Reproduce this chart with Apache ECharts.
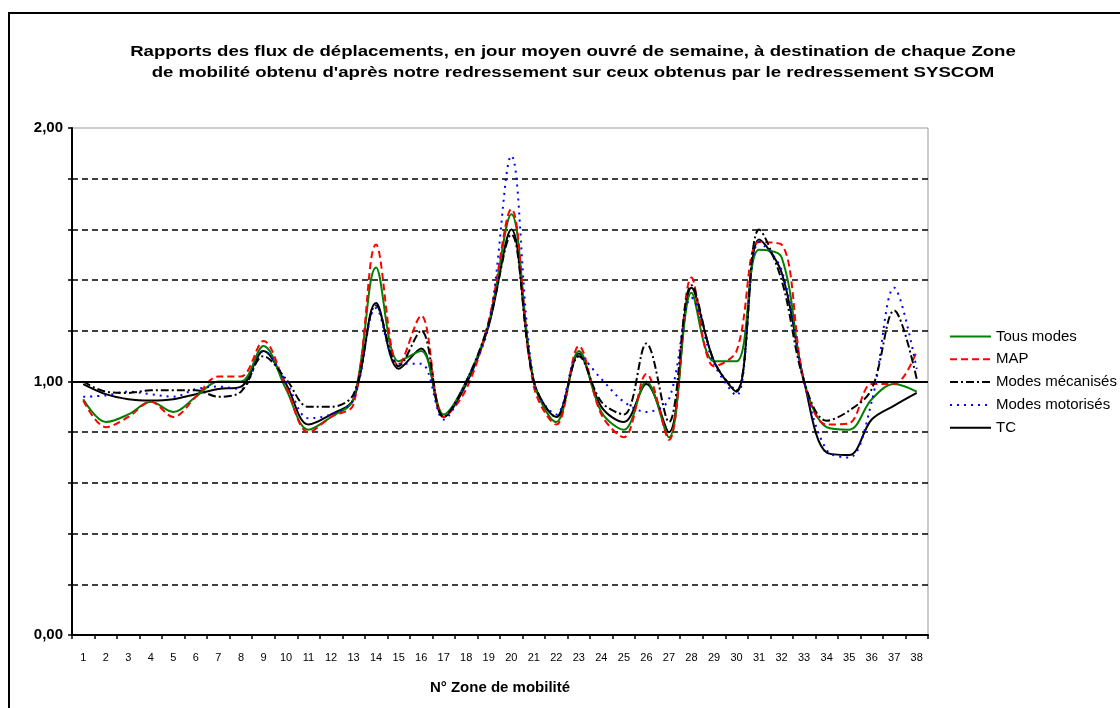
<!DOCTYPE html>
<html>
<head>
<meta charset="utf-8">
<title>Rapports des flux de déplacements</title>
<script src="https://cdn.jsdelivr.net/npm/echarts@6/dist/echarts.min.js"></script>
<style>
  html, body { margin: 0; padding: 0; background: #fff; }
  #chart { width: 1120px; height: 708px; }
</style>
</head>
<body>
<div id="chart"></div>
<script>
// Zones de mobilité 1 à 38
const zones = ['1','2','3','4','5','6','7','8','9','10','11','12','13','14','15','16','17','18','19','20',
  '21','22','23','24','25','26','27','28','29','30','31','32','33','34','35','36','37','38'];

// Rapports (notre redressement / redressement SYSCOM) par zone de destination
const tousModes = [0.93,0.84,0.87,0.92,0.88,0.94,1.00,1.00,1.14,0.97,0.81,0.86,0.93,1.45,1.08,1.12,0.87,1.00,1.23,1.66,
  1.00,0.84,1.12,0.88,0.81,1.00,0.78,1.35,1.08,1.08,1.52,1.49,1.00,0.82,0.81,0.93,0.99,0.96];
const map = [0.925,0.82,0.86,0.92,0.86,0.94,1.02,1.02,1.16,0.98,0.80,0.86,0.91,1.54,1.06,1.26,0.86,0.97,1.24,1.68,
  0.98,0.83,1.14,0.87,0.78,1.03,0.77,1.41,1.06,1.12,1.55,1.54,1.00,0.83,0.835,0.99,0.99,1.12];
const modesMecanises = [1.00,0.96,0.955,0.965,0.965,0.965,0.94,0.96,1.10,1.01,0.90,0.90,0.95,1.30,1.06,1.20,0.86,1.00,1.23,1.58,
  1.00,0.86,1.10,0.92,0.87,1.15,0.84,1.38,1.08,0.965,1.60,1.40,1.00,0.845,0.885,0.97,1.28,1.01];
const modesMotorises = [0.94,0.945,0.96,0.95,0.94,0.97,0.98,0.97,1.12,1.00,0.855,0.87,0.93,1.29,1.07,1.07,0.85,1.00,1.22,1.89,
  1.00,0.87,1.10,1.01,0.92,0.88,0.93,1.33,1.07,0.945,1.55,1.44,1.00,0.73,0.70,0.92,1.37,1.05];
const tc = [0.99,0.95,0.93,0.925,0.93,0.95,0.97,0.98,1.12,0.99,0.83,0.87,0.93,1.31,1.05,1.13,0.86,0.99,1.22,1.60,
  1.00,0.86,1.11,0.90,0.84,0.99,0.80,1.37,1.08,0.96,1.56,1.43,1.00,0.72,0.71,0.85,0.905,0.955];

const yTickLabels = { 0: '0,00', 1: '1,00', 2: '2,00' };

const titleLines = 'Rapports des flux de déplacements, en jour moyen ouvré de semaine, à destination de chaque Zone\n' +
  'de mobilité obtenu d\'après notre redressement sur ceux obtenus par le redressement SYSCOM';

const FONT = '"Liberation Sans", Arial, sans-serif';

const chart = echarts.init(document.getElementById('chart'), null, { renderer: 'canvas' });

function lineSeries(name, data, color, type, z) {
  return {
    name: name,
    type: 'line',
    data: data,
    smooth: 0.35,
    symbol: 'none',
    z: z,
    lineStyle: { color: color, width: 2, type: type },
    itemStyle: { color: color }
  };
}

const tcSeries = lineSeries('TC', tc, '#000000', 'solid', 2);
// solid reference line at ratio 1
tcSeries.markLine = {
  silent: true,
  symbol: 'none',
  label: { show: false },
  lineStyle: { color: '#000000', width: 2, type: 'solid' },
  data: [{ yAxis: 1 }]
};

chart.setOption({
  animation: false,
  backgroundColor: '#ffffff',
  legend: {
    orient: 'vertical',
    left: 944,
    top: 324,
    itemWidth: 41,
    itemHeight: 14,
    itemGap: 7.8,
    itemStyle: { color: 'rgba(0,0,0,0)', borderWidth: 0, opacity: 0 },
    data: ['Tous modes', 'MAP', 'Modes mécanisés', 'Modes motorisés', 'TC'],
    textStyle: { fontFamily: FONT, fontSize: 15, color: '#000' }
  },
  grid: { left: 72, right: 192, top: 128, bottom: 73, show: true, borderColor: '#999999', borderWidth: 1 },
  xAxis: {
    type: 'category',
    data: zones,
    boundaryGap: true,
    name: 'N° Zone de mobilité',
    nameLocation: 'middle',
    nameGap: 45,
    nameTextStyle: { fontFamily: FONT, fontSize: 15, fontWeight: 'bold', color: '#000' },
    axisLine: { lineStyle: { color: '#000', width: 2 } },
    axisTick: { show: true, length: 4, lineStyle: { color: '#000', width: 1.5 } },
    axisLabel: { fontFamily: FONT, fontSize: 11, color: '#000', margin: 17, interval: 0 },
    splitLine: { show: false }
  },
  yAxis: {
    type: 'value',
    min: 0,
    max: 2,
    interval: 0.2,
    axisLine: { show: true, lineStyle: { color: '#000', width: 2 } },
    axisTick: { show: true, length: 4, lineStyle: { color: '#000', width: 1.5 } },
    axisLabel: {
      fontFamily: FONT, fontSize: 15, fontWeight: 'bold', color: '#000', margin: 9,
      formatter: function (v) {
        const k = Math.round(v * 10) / 10;
        return yTickLabels[k] !== undefined ? yTickLabels[k] : '';
      }
    },
    splitLine: { show: true, showMaxLine: false, lineStyle: { color: '#000', width: 1.5, type: [6, 4] } }
  },
  graphic: [
    {
      type: 'rect',
      silent: true,
      shape: { x: 9, y: 13, width: 1200, height: 800 },
      style: { fill: null, stroke: '#000', lineWidth: 2 }
    },
    {
      // two-line title, drawn a little wide
      type: 'text',
      silent: true,
      x: 573,
      y: 42,
      scaleX: 1.33,
      style: {
        text: titleLines,
        font: 'bold 14px "Liberation Sans", Arial, sans-serif',
        lineHeight: 21,
        textAlign: 'center',
        textVerticalAlign: 'top',
        fill: '#000'
      }
    }
  ],
  series: [
    lineSeries('Tous modes', tousModes, '#008000', 'solid', 3),
    lineSeries('MAP', map, '#ff0000', [7, 4], 4),
    lineSeries('Modes motorisés', modesMotorises, '#0000ff', [2, 5], 5),
    lineSeries('Modes mécanisés', modesMecanises, '#000000', [8, 3, 2, 3], 6),
    tcSeries
  ]
});
</script>
</body>
</html>
